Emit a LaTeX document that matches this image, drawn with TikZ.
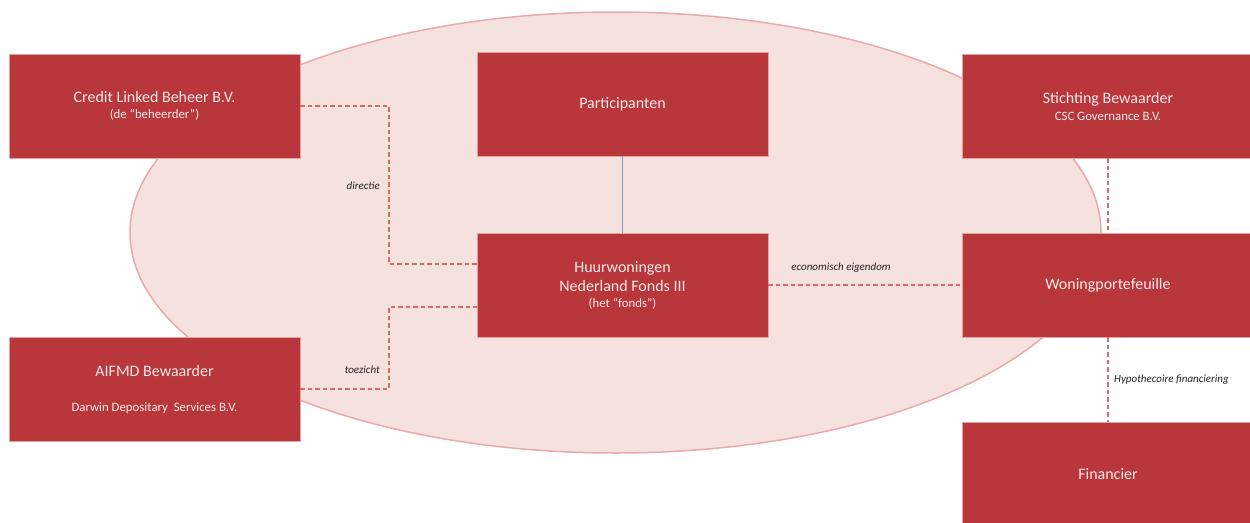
\documentclass[tikz,border=0pt]{standalone}
\usepackage{fontspec}
\setmainfont{Carlito}
\definecolor{boxred}{HTML}{B9373A}
\definecolor{boxedge}{HTML}{E2A3A3}
\definecolor{ellfill}{HTML}{F5E1DE}
\definecolor{elledge}{HTML}{E8ABA9}
\definecolor{dashred}{HTML}{D66A6A}
\definecolor{linkblue}{HTML}{7F9BCB}
\definecolor{boxtext}{HTML}{F7E9E9}
\newcommand{\subtxt}{\fontsize{12.8}{15}\selectfont}
\tikzset{
  redbox/.style={rectangle, fill=boxred, draw=boxedge, line width=0.6pt,
    minimum width=291pt, minimum height=104pt, inner sep=0pt,
    text=boxtext, align=center, font=\fontsize{16}{17}\selectfont},
  dashlink/.style={draw=dashred, line width=1.3pt, dash pattern=on 4.5pt off 3pt},
  solidlink/.style={draw=linkblue, line width=1.2pt},
  lbl/.style={font=\fontsize{11}{13}\selectfont\itshape, text=black!85, inner sep=0pt}
}
\begin{document}
\begin{tikzpicture}[x=1pt,y=-1pt]
\useasboundingbox (0,0) rectangle (1250,522);
\clip (0,0) rectangle (1250,522);
\fill[white] (0,0) rectangle (1250,522);
\draw[fill=ellfill, draw=elledge, line width=1.5pt] (615.5,232.5) ellipse [x radius=485.5pt, y radius=220.5pt];

\node[redbox] (clb) at (154.5,106) {Credit Linked Beheer B.V.\\[-1pt]{\subtxt (de “beheerder”)}};
\node[redbox] (aif) at (154.5,389) {AIFMD Bewaarder\\[18pt]{\subtxt Darwin Depositary\ \ Services B.V.}};
\node[redbox] (par) at (622.5,104) {Participanten};
\node[redbox] (huur) at (622.5,285) {Huurwoningen\\[2pt]Nederland Fonds III\\[-1pt]{\subtxt (het “fonds”)}};
\node[redbox] (sti) at (1108,106) {Stichting Bewaarder\\[0pt]{\subtxt CSC Governance B.V.}};
\node[redbox] (won) at (1108,285) {Woningportefeuille};
\node[redbox] (fin) at (1108,474) {Financier};

\coordinate (j1) at (389,264);
\coordinate (j2) at (389,307);
\draw[dashlink] (clb.east) -| (j1) -- (j1 -| huur.west);
\draw[dashlink] (aif.east) -| (j2) -- (j2 -| huur.west);
\draw[solidlink] (par.south) -- (huur.north);
\draw[dashlink] (huur.east) -- (huur.east -| won.west);
\draw[dashlink] (sti.south) -- (won.north);
\draw[dashlink] (won.south) -- (fin.north);

\node[lbl, anchor=east] (ldir) at (380,186) {directie};
\node[lbl, anchor=east] (ltoe) at (380,370) {toezicht};
\node[lbl] (leco) at (841,268) {economisch eigendom};
\node[lbl, anchor=west] (lhyp) at (1114,380) {Hypothecoire financiering};
\end{tikzpicture}
\end{document}
